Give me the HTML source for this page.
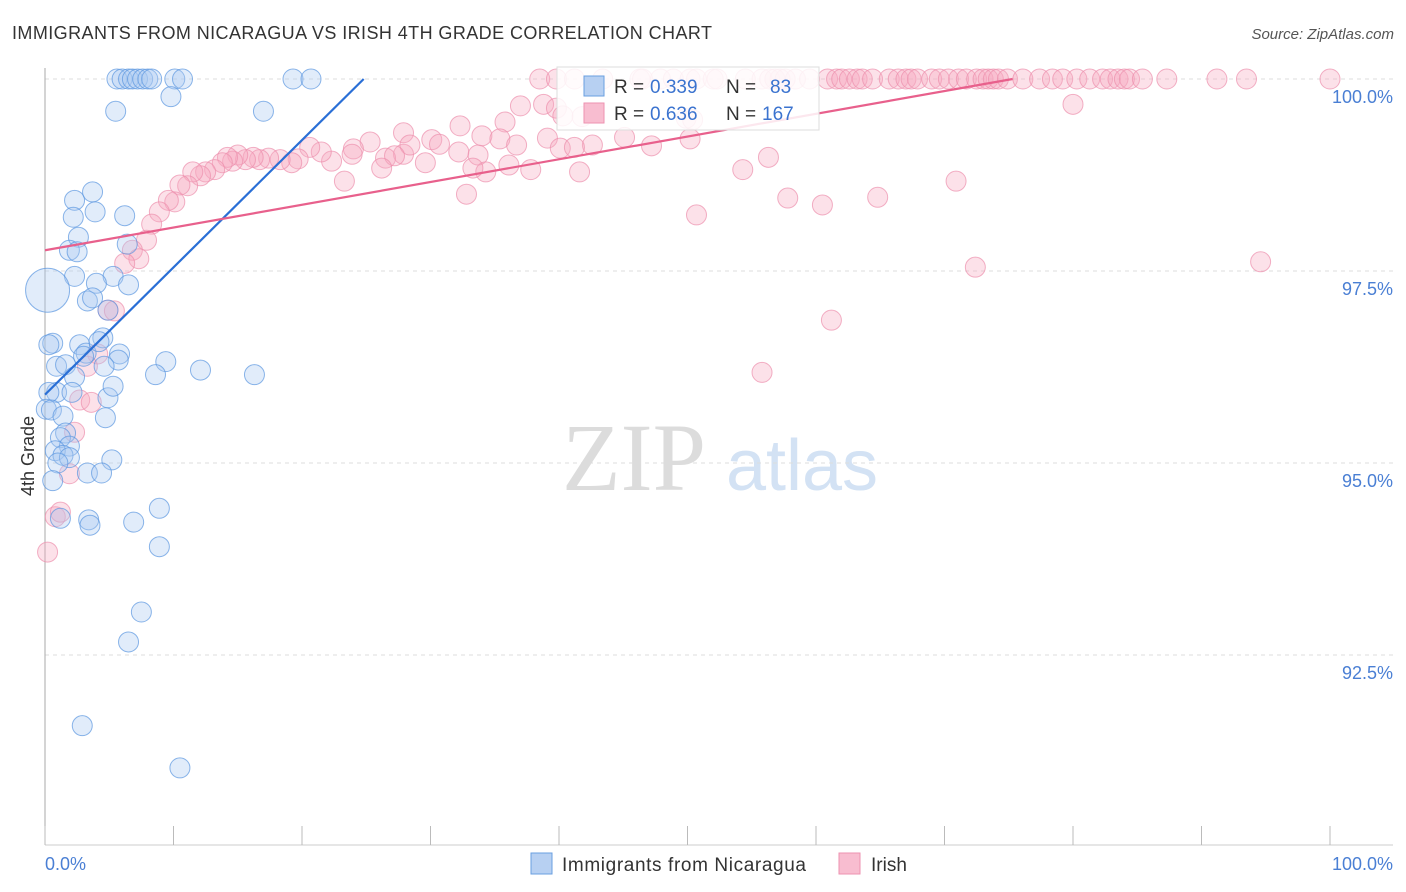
<!DOCTYPE html>
<html><head><meta charset="utf-8"><style>
body{margin:0;background:#fff;font-family:"Liberation Sans",sans-serif}
#c{position:relative;width:1406px;height:892px;overflow:hidden}
</style></head><body>
<div id="c">
<svg id="s" width="1406" height="892" xmlns="http://www.w3.org/2000/svg">
<text x="12" y="39" font-size="18" fill="#333" textLength="700">IMMIGRANTS FROM NICARAGUA VS IRISH 4TH GRADE CORRELATION CHART</text>
<text x="1394" y="39" font-size="15" fill="#555" font-style="italic" text-anchor="end">Source: ZipAtlas.com</text>
<text x="634" y="490" font-size="96" fill="#dcdcdc" font-family="Liberation Serif,serif" text-anchor="middle">ZIP</text>
<text x="802" y="490" font-size="72" fill="#d3e2f4" text-anchor="middle">atlas</text>
<text transform="translate(34,456) rotate(-90)" font-size="18" fill="#333" text-anchor="middle">4th Grade</text>
<g id="grid"></g><g id="pts"></g><g id="lines"></g>
<g>
<rect x="557" y="67" width="262" height="63" fill="#fff" fill-opacity="0.85" stroke="#ddd"/>
<rect x="584" y="76" width="20" height="20" fill="#b7d0f2" stroke="#6a9fe0"/>
<rect x="584" y="103" width="20" height="20" fill="#f8bdd0" stroke="#ee92b0"/>
<text x="614" y="93" font-size="19" fill="#333">R =</text>
<text x="650" y="93" font-size="19" fill="#3b73cf">0.339</text>
<text x="726" y="93" font-size="19" fill="#333">N =</text>
<text x="770" y="93" font-size="19" fill="#3b73cf">83</text>
<text x="614" y="120" font-size="19" fill="#333">R =</text>
<text x="650" y="120" font-size="19" fill="#3b73cf">0.636</text>
<text x="726" y="120" font-size="19" fill="#333">N =</text>
<text x="762" y="120" font-size="19" fill="#3b73cf">167</text>
</g>
<g>
<rect x="531" y="853" width="21" height="21" fill="#b7d0f2" stroke="#6a9fe0"/>
<text x="562" y="871" font-size="19" fill="#333" textLength="244">Immigrants from Nicaragua</text>
<rect x="839" y="853" width="21" height="21" fill="#f8bdd0" stroke="#ee92b0"/>
<text x="871" y="871" font-size="19" fill="#333">Irish</text>
</g>
</svg></div>
<script>
const yTicks=[100,97.5,95,92.5];
const yTickLabels=["100.0%","97.5%","95.0%","92.5%"];
const xTickCount=10;
const blueX=[5.6,6.0,6.5,6.8,7.2,7.6,8.0,8.3,10.1,10.7,19.3,20.7,9.8,5.5,17.0,2.3,3.7,3.9,6.2,2.2,2.6,6.4,1.9,2.5,2.3,5.3,4.0,6.5,3.3,3.7,0.2,4.9,0.6,0.3,2.7,4.5,5.8,3.2,4.2,3.0,5.7,0.9,1.6,4.6,2.3,4.9,0.9,0.3,5.3,9.4,12.1,8.6,16.3,2.1,0.1,0.5,1.4,4.7,1.6,1.2,1.9,0.8,1.4,1.9,1.0,5.2,3.3,4.4,0.6,8.9,3.4,3.5,6.9,1.2,8.9,7.5,6.5,2.9,10.5];
const blueY=[100,100,100,100,100,100,100,100,100,100,100,100,99.77,99.58,99.58,98.42,98.53,98.27,98.22,98.20,97.94,97.85,97.77,97.75,97.43,97.43,97.34,97.32,97.11,97.15,97.25,96.99,96.56,96.54,96.54,96.63,96.42,96.43,96.58,96.39,96.34,96.26,96.28,96.26,96.12,95.85,95.92,95.92,96.00,96.32,96.21,96.15,96.15,95.92,95.70,95.69,95.61,95.59,95.39,95.33,95.22,95.16,95.10,95.07,95.00,95.04,94.87,94.87,94.77,94.41,94.26,94.19,94.23,94.28,93.91,93.06,92.67,91.58,91.03];
const blueSize=blueX.map((v,i)=>i===30?2.2:1);
const pinkTopX=[38.5,39.8,41.2,43.4,46.3,46.5,47.9,48.9,50.2,50.7,52.0,52.3,54.5,55.8,56.4,56.8,57.2,57.6,58.4,59.5,60.9,61.6,62.0,62.6,63.2,63.6,64.4,65.7,66.4,67.0,67.4,67.9,69.0,69.6,70.3,71.1,71.7,72.5,73.0,73.4,73.8,74.2,74.9,76.1,77.4,78.4,79.2,80.3,81.3,82.3,82.9,83.5,84.0,84.4,85.4,87.3,91.2,93.5,100];
const pinkX=[80.0,37.0,38.8,39.8,41.8,40.3,35.8,32.3,27.9,30.1,34.0,35.4,25.3,24.0,30.7,23.9,27.9,28.4,33.7,32.2,36.7,39.1,40.1,42.6,41.2,45.1,49.9,50.4,47.2,50.2,56.3,54.3,41.6,37.8,36.1,32.8,34.3,33.3,29.6,26.5,27.2,26.2,23.3,22.3,21.5,20.6,19.7,19.2,18.3,17.4,16.7,16.2,15.6,15.0,14.6,14.2,13.8,13.2,12.5,12.1,11.5,11.1,10.5,10.1,9.6,8.9,8.3,7.9,6.8,7.3,6.2,4.9,5.4,4.1,3.3,2.7,3.6,2.3,1.9,0.8,1.2,0.2,50.7,57.8,60.5,64.8,70.9,72.4,61.2,55.8,94.6];
const pinkY=[99.67,99.65,99.67,99.62,99.51,99.52,99.44,99.39,99.30,99.21,99.26,99.22,99.18,99.09,99.15,99.02,99.02,99.14,99.01,99.05,99.14,99.23,99.10,99.14,99.11,99.24,99.49,99.47,99.13,99.22,98.98,98.82,98.79,98.82,98.88,98.50,98.79,98.84,98.91,98.97,99.00,98.84,98.67,98.93,99.05,99.11,98.96,98.91,98.95,98.97,98.95,98.98,98.95,99.01,98.93,98.98,98.91,98.82,98.79,98.74,98.79,98.61,98.62,98.40,98.42,98.27,98.11,97.90,97.77,97.66,97.60,96.99,96.98,96.42,96.26,95.82,95.79,95.40,94.86,94.30,94.36,93.84,98.23,98.45,98.36,98.46,98.67,97.55,96.86,96.18,97.62];
const blueTrend=[[0,95.89],[24.8,100]];
const pinkTrend=[[0,97.77],[75.3,100]];
const NS='http://www.w3.org/2000/svg';
const xs=v=>45+v*12.85, ys=v=>79+(100-v)*76.8;
function mk(t,a,p){const e=document.createElementNS(NS,t);for(const k in a)e.setAttribute(k,a[k]);p.appendChild(e);return e;}
const grid=document.getElementById('grid'),pts=document.getElementById('pts'),lines=document.getElementById('lines');
yTicks.forEach((t,i)=>{
 const l=mk('line',{x1:45,x2:1393,y1:ys(t),y2:ys(t),stroke:'#ddd','stroke-dasharray':'4,4'},grid);
 
 const tx=mk('text',{x:1393,y:ys(t)+24,'font-size':18,fill:'#4a7fd4','text-anchor':'end'},grid);tx.textContent=yTickLabels[i];
 
});
const ax=mk('line',{x1:45,x2:45,y1:68,y2:845,stroke:'#aaa'},grid);

const bx=mk('line',{x1:45,x2:1393,y1:845,y2:845,stroke:'#ccc'},grid);

for(let i=0;i<=xTickCount;i++){const x=xs(i*10);const t=mk('line',{x1:x,x2:x,y1:826,y2:845,stroke:'#bbb'},grid);
 }
const x0=mk('text',{x:45,y:870,'font-size':18,fill:'#4a7fd4'},grid);x0.textContent='0.0%';

const x1=mk('text',{x:1393,y:870,'font-size':18,fill:'#4a7fd4','text-anchor':'end'},grid);x1.textContent='100.0%';

function dot(x,y,r,f,s,name){const c=mk('circle',{cx:xs(x),cy:ys(y),r:r,fill:f,'fill-opacity':0.35,stroke:s,'stroke-opacity':0.7,'stroke-width':1},pts);
 }
pinkTopX.forEach(x=>dot(x,100,10,'#f5a8c0','#ec8fad','irish-point'));
pinkX.forEach((x,i)=>dot(x,pinkY[i],10,'#f5a8c0','#ec8fad','irish-point'));
blueX.forEach((x,i)=>dot(x,blueY[i],10*blueSize[i],'#a9c9f0','#5a95e0','nicaragua-point'));
const bl=mk('line',{x1:xs(blueTrend[0][0]),y1:ys(blueTrend[0][1]),x2:xs(blueTrend[1][0]),y2:ys(blueTrend[1][1]),stroke:'#2a6fd6','stroke-width':2.2},lines);

const pl=mk('line',{x1:xs(pinkTrend[0][0]),y1:ys(pinkTrend[0][1]),x2:xs(pinkTrend[1][0]),y2:ys(pinkTrend[1][1]),stroke:'#e8608c','stroke-width':2.2},lines);

</script>
</body></html>
